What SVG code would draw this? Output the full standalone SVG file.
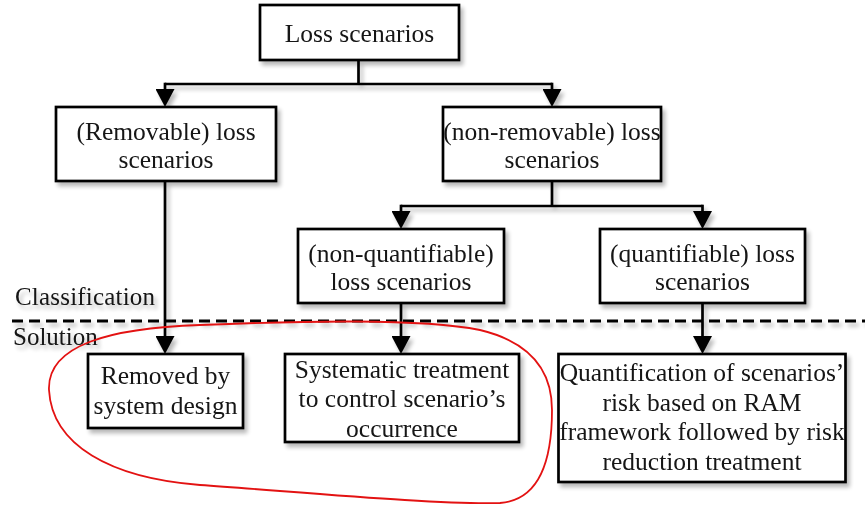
<svg xmlns="http://www.w3.org/2000/svg" width="865" height="506" viewBox="0 0 865 506">
  <style>
    .box { fill: #ffffff; stroke: #000000; stroke-width: 2.7; }
    .lbl { font-family: "Liberation Serif", "Times New Roman", serif; font-size: 25.5px; fill: #141414; text-anchor: middle; }
    .side { font-family: "Liberation Serif", "Times New Roman", serif; font-size: 25px; fill: #141414; }
    .wire { fill: none; stroke: #000000; stroke-width: 2.7; }
    .arrow { marker-end: url(#head); }
    .divider { fill: none; stroke: #000000; stroke-width: 2.8; stroke-dasharray: 11 6; }
    .loop { fill: none; stroke: #e31212; stroke-width: 1.8; }
  </style>
  <defs>
    <marker id="head" markerUnits="userSpaceOnUse" markerWidth="18" markerHeight="19" viewBox="0 0 18 19" refX="12" refY="9.5" orient="auto">
      <path d="M0,0 L18,9.5 L0,19 Z" fill="#000000"/>
    </marker>
    <filter id="shade" x="-5%" y="-5%" width="115%" height="120%">
      <feGaussianBlur in="SourceAlpha" stdDeviation="2"/>
      <feOffset dx="3" dy="4" result="blur"/>
      <feComponentTransfer>
        <feFuncA type="linear" slope="0.28"/>
      </feComponentTransfer>
      <feMerge>
        <feMergeNode/>
        <feMergeNode in="SourceGraphic"/>
      </feMerge>
    </filter>
  </defs>

  <rect width="865" height="506" fill="#ffffff"/>

  <g filter="url(#shade)">
    <!-- boundary between the two phases -->
    <g id="phase-divider">
      <line class="divider" x1="12" y1="321" x2="865" y2="321"/>
      <text class="side" x="15" y="305" textLength="140" lengthAdjust="spacing">Classification</text>
      <text class="side" x="13" y="345">Solution</text>
    </g>

    <!-- connectors -->
    <g id="connectors">
      <path class="wire" d="M358.5,60 V84"/>
      <path class="wire" d="M165,84 H552"/>
      <path class="wire arrow" d="M165,82.7 V101"/>
      <path class="wire arrow" d="M552,82.7 V101"/>
      <path class="wire arrow" d="M165,181 V348"/>
      <path class="wire" d="M552,181 V206"/>
      <path class="wire" d="M401,206 H702.5"/>
      <path class="wire arrow" d="M401,204.7 V223"/>
      <path class="wire arrow" d="M702.5,204.7 V223"/>
      <path class="wire arrow" d="M401,303 V348"/>
      <path class="wire arrow" d="M702.5,303 V348"/>
    </g>

    <g id="loss-scenarios">
      <rect class="box" x="260" y="5" width="199" height="55"/>
      <text class="lbl" x="359.5" y="42">Loss scenarios</text>
    </g>

    <g id="removable">
      <rect class="box" x="56" y="107" width="220" height="74"/>
      <text class="lbl" x="166" y="140">(Removable) loss</text>
      <text class="lbl" x="166" y="168">scenarios</text>
    </g>

    <g id="non-removable">
      <rect class="box" x="443" y="107" width="218" height="74"/>
      <text class="lbl" x="552" y="140">(non-removable) loss</text>
      <text class="lbl" x="552" y="168">scenarios</text>
    </g>

    <g id="non-quantifiable">
      <rect class="box" x="298" y="229" width="206" height="74"/>
      <text class="lbl" x="401" y="262">(non-quantifiable)</text>
      <text class="lbl" x="401" y="290">loss scenarios</text>
    </g>

    <g id="quantifiable">
      <rect class="box" x="600" y="229" width="205" height="74"/>
      <text class="lbl" x="702.5" y="262">(quantifiable) loss</text>
      <text class="lbl" x="702.5" y="290">scenarios</text>
    </g>

    <g id="removed-by-design">
      <rect class="box" x="88" y="354" width="155" height="74"/>
      <text class="lbl" x="165.5" y="384">Removed by</text>
      <text class="lbl" x="165.5" y="414">system design</text>
    </g>

    <g id="systematic-treatment">
      <rect class="box" x="285" y="354" width="234" height="88"/>
      <text class="lbl" x="402" y="378">Systematic treatment</text>
      <text class="lbl" x="402" y="407">to control scenario’s</text>
      <text class="lbl" x="402" y="436.5">occurrence</text>
    </g>

    <g id="ram-quantification">
      <rect class="box" x="558.5" y="354" width="287" height="128"/>
      <text class="lbl" x="702" y="381">Quantification of scenarios’</text>
      <text class="lbl" x="702" y="410.5">risk based on RAM</text>
      <text class="lbl" x="702" y="440">framework followed by risk</text>
      <text class="lbl" x="702" y="469.5">reduction treatment</text>
    </g>
  </g>

  <!-- freehand outline grouping the two non-quantified solutions -->
  <path class="loop" d="M49,390 C47,345 110,328 200,325 C300,321 420,318 480,330 C530,342 552,370 552,410 C552,460 540,500 500,503 C440,505 300,492 200,485 C110,478 52,445 49,390 Z"/>
</svg>
